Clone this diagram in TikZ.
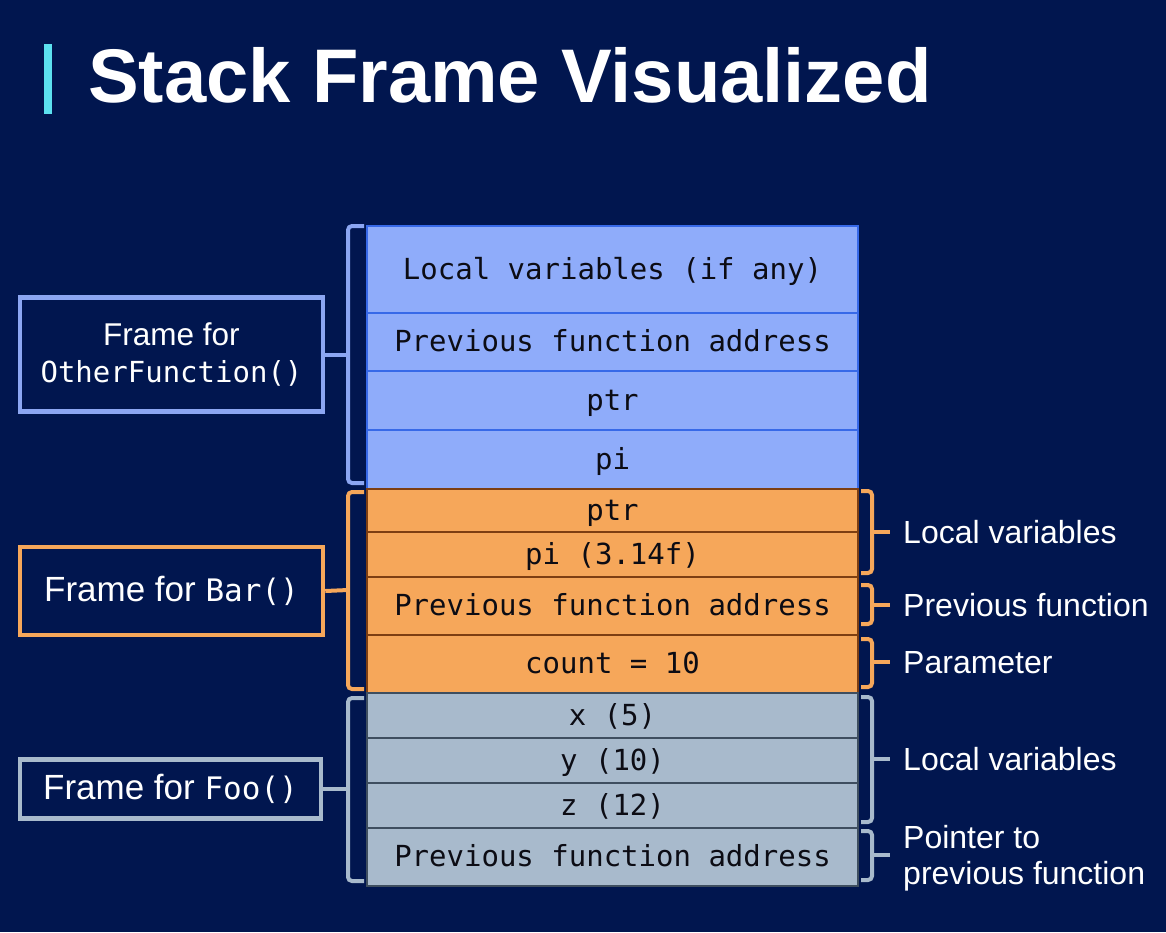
\documentclass[tikz,border=0pt]{standalone}
\usepackage{fontspec}
\setmainfont{Liberation Sans}
\newfontfamily\codefont{DejaVu Sans Mono}
\definecolor{navy}{RGB}{1,22,79}
\definecolor{accent}{RGB}{92,225,240}
\definecolor{blueFill}{RGB}{143,172,250}
\definecolor{blueLine}{RGB}{55,105,232}
\definecolor{blueEdge}{RGB}{140,166,242}
\definecolor{orangeFill}{RGB}{246,167,90}
\definecolor{orangeLine}{RGB}{125,62,18}
\definecolor{greyFill}{RGB}{168,186,204}
\definecolor{greyLine}{RGB}{62,78,95}
\definecolor{cellText}{RGB}{12,12,20}
\tikzset{
  cell/.style={anchor=north west, minimum width=491pt, inner sep=0pt, line width=2pt,
    text=cellText, font=\codefont\fontsize{29}{35}\selectfont, text height=19pt, text depth=0pt},
  bluecell/.style={cell, fill=blueFill, draw=blueLine},
  orangecell/.style={cell, fill=orangeFill, draw=orangeLine},
  greycell/.style={cell, fill=greyFill, draw=greyLine},
  framebox/.style={line width=4.5pt, fill=navy, text=white, align=center, inner sep=0pt,
    minimum width=303pt},
  brace/.style={line width=4pt, rounded corners=4pt},
  note/.style={anchor=base west, text=white, inner sep=0pt, align=left,
    font=\fontsize{32}{36}\selectfont},
}
\begin{document}
\begin{tikzpicture}[x=1pt,y=-1pt]
  \fill[navy] (0,0) rectangle (1166,932);
  \useasboundingbox (0,0) rectangle (1166,932);

  % heading
  \node[fill=accent, inner sep=0pt, minimum width=8pt, minimum height=70pt, anchor=north west] (bar) at (44,44) {};
  \node[anchor=base west, inner sep=0pt, text=white, font=\bfseries\fontsize{76}{90}\selectfont] (title) at (88,102) {Stack Frame Visualized};

  % frame of OtherFunction()
  \node[bluecell, minimum height=87pt]  (o1) at (366,225) {Local variables (if any)};
  \node[bluecell, minimum height=58pt]  (o2) at (366,312) {Previous function address};
  \node[bluecell, minimum height=59pt]  (o3) at (366,370) {ptr};
  \node[bluecell, minimum height=59pt]  (o4) at (366,429) {pi};

  % frame of Bar()
  \node[orangecell, minimum height=43pt] (b1) at (366,488) {ptr};
  \node[orangecell, minimum height=45pt] (b2) at (366,531) {pi (3.14f)};
  \node[orangecell, minimum height=58pt] (b3) at (366,576) {Previous function address};
  \node[orangecell, minimum height=58pt] (b4) at (366,634) {count = 10};

  % frame of Foo()
  \node[greycell, minimum height=45pt] (f1) at (366,692) {x (5)};
  \node[greycell, minimum height=45pt] (f2) at (366,737) {y (10)};
  \node[greycell, minimum height=45pt] (f3) at (366,782) {z (12)};
  \node[greycell, minimum height=58pt] (f4) at (366,827) {Previous function address};

  % frame captions on the left
  \node[framebox, draw=blueEdge, minimum height=114pt, font=\fontsize{31.5}{37}\selectfont] (capO) at (171.5,354.5)
    {Frame for\\{\codefont\fontsize{29}{37}\selectfont OtherFunction()}};
  \node[framebox, draw=orangeFill, minimum height=88pt, font=\fontsize{35}{40}\selectfont] (capB) at (171.5,591)
    {Frame for {\codefont\fontsize{31}{40}\selectfont Bar()}};
  \node[framebox, draw=greyFill, minimum height=59pt, minimum width=301pt, font=\fontsize{35}{40}\selectfont] (capF) at (170.5,789)
    {Frame for {\codefont\fontsize{31}{40}\selectfont Foo()}};

  % left braces
  \coordinate (lbO) at (348,354.5);
  \coordinate (lbB) at (348,590);
  \coordinate (lbF) at (348,789);
  \draw[brace, blueEdge] (364,226) -- (348,226) -- (348,483) -- (364,483);
  \draw[brace, orangeFill] (364,492) -- (348,492) -- (348,689) -- (364,689);
  \draw[brace, greyFill] (364,698) -- (348,698) -- (348,881) -- (364,881);
  \draw[line width=4pt, blueEdge] (capO.east) -- (lbO);
  \draw[line width=4pt, orangeFill] (capB.east) -- (lbB);
  \draw[line width=4pt, greyFill] (capF.east) -- (lbF);

  % right braces
  \coordinate (rb1) at (872,532);
  \coordinate (rb2) at (872,605);
  \coordinate (rb3) at (872,662);
  \coordinate (rb4) at (872,759);
  \coordinate (rb5) at (872,855);
  \draw[brace, orangeFill] (861,491) -- (872,491) -- (872,573) -- (861,573);
  \draw[brace, orangeFill] (861,585) -- (872,585) -- (872,624) -- (861,624);
  \draw[brace, orangeFill] (861,639) -- (872,639) -- (872,687) -- (861,687);
  \draw[brace, greyFill] (861,697) -- (872,697) -- (872,822) -- (861,822);
  \draw[brace, greyFill] (861,831) -- (872,831) -- (872,880) -- (861,880);
  \draw[line width=4pt, orangeFill] (rb1) -- ++(18,0);
  \draw[line width=4pt, orangeFill] (rb2) -- ++(18,0);
  \draw[line width=4pt, orangeFill] (rb3) -- ++(18,0);
  \draw[line width=4pt, greyFill] (rb4) -- ++(18,0);
  \draw[line width=4pt, greyFill] (rb5) -- ++(18,0);

  % notes on the right
  \node[note] (n1) at (903,543) {Local variables};
  \node[note] (n2) at (903,616) {Previous function};
  \node[note] (n3) at (903,673) {Parameter};
  \node[note] (n4) at (903,770) {Local variables};
  \node[note] (n5) at (903,884) {Pointer to\\previous function};
\end{tikzpicture}
\end{document}
